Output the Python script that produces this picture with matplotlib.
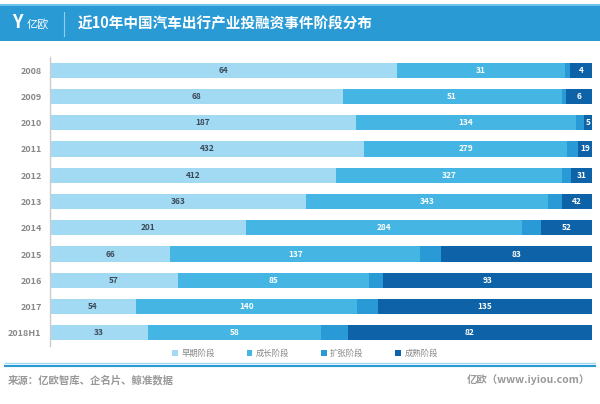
import numpy as np
import matplotlib
matplotlib.use("Agg")
from matplotlib import pyplot as plt
import matplotlib.patches as patches

plt.rcParams['font.family'] = ['Noto Sans CJK SC', 'DejaVu Sans']

years = ['2008', '2009', '2010', '2011', '2012', '2013', '2014', '2015', '2016', '2017', '2018H1']
stages = ['早期阶段', '成长阶段', '扩张阶段', '成熟阶段']
early = [64, 68, 187, 432, 412, 363, 201, 66, 57, 54, 33]
growth = [31, 51, 134, 279, 327, 343, 284, 137, 85, 140, 58]
expand = [1, 1, 5, 15, 12, 20, 20, 11, 6, 13, 9]
mature = [4, 6, 5, 19, 31, 42, 52, 83, 93, 135, 82]

colors = ['#a3daf3', '#45b6e3', '#2a9ad6', '#0d62a8']
label_colors = ['#3a4a5a', '#ffffff', None, '#ffffff']

fig = plt.figure(figsize=(6, 4.04), dpi=100)
fig.patch.set_facecolor('white')

# header bar
fig.patches.append(patches.Rectangle((0, 1 - 41 / 404), 1, 36 / 404, transform=fig.transFigure,
                                     facecolor='#2a9ad5', edgecolor='none'))
fig.patches.append(patches.Rectangle((0, 1 - 6 / 404), 1, 2 / 404, transform=fig.transFigure,
                                     facecolor='#6cc3ec', edgecolor='none'))
fig.text(12 / 600, 1 - 23 / 404, 'Y', color='white', fontsize=13, fontweight='bold', va='center')
fig.text(27 / 600, 1 - 24 / 404, '亿欧', color='white', fontsize=8, va='center')
fig.add_artist(plt.Line2D([64 / 600, 64 / 600], [1 - 12 / 404, 1 - 36 / 404], color='#8fd0f0', lw=0.8))
fig.text(78 / 600, 1 - 23 / 404, '近10年中国汽车出行产业投融资事件阶段分布', color='white',
         fontsize=10.5, fontweight='bold', va='center')

ax = fig.add_axes([50 / 600, 1 - 346 / 404, 542 / 600, 289 / 404])

data = np.array([early, growth, expand, mature], dtype=float)
totals = data.sum(axis=0)
shares = data / totals
y = np.arange(len(years))
left = np.zeros(len(years))
for i in range(4):
    ax.barh(y, shares[i], left=left, height=0.58, color=colors[i], label=stages[i])
    if label_colors[i] is not None:
        for j in range(len(years)):
            ax.text(left[j] + shares[i][j] / 2, y[j], str(int(data[i][j])), ha='center', va='center',
                    fontsize=6, color=label_colors[i], fontweight='bold')
    left += shares[i]

ax.set_xlim(0, 1)
ax.set_ylim(len(years) - 0.5, -0.5)
ax.set_yticks(y)
ax.set_yticklabels(years, fontsize=6.5, color='#888888', fontweight='bold')
ax.set_xticks([])
ax.tick_params(axis='y', length=0, pad=6)
for s in ['top', 'right', 'bottom']:
    ax.spines[s].set_visible(False)
ax.spines['left'].set_color('#cccccc')
ax.spines['left'].set_linewidth(1.0)

leg = fig.legend(loc='center', bbox_to_anchor=(305 / 600, 1 - 353 / 404), ncol=4, frameon=False,
                 fontsize=6, handlelength=0.7, handleheight=0.7, columnspacing=3.8, handletextpad=0.4)
for t in leg.get_texts():
    t.set_color('#888888')

# bottom rule
fig.add_artist(plt.Line2D([5 / 600, 595 / 600], [1 - 363 / 404, 1 - 363 / 404], color='#9fdaf5', lw=1))
fig.add_artist(plt.Line2D([5 / 600, 595 / 600], [1 - 366 / 404, 1 - 366 / 404], color='#2a9ad5', lw=1.5))

fig.text(8 / 600, 1 - 380 / 404, '来源：亿欧智库、企名片、鲸准数据', color='#999999', fontsize=7.5,
         fontweight='bold', va='center')
fig.text(590 / 600, 1 - 380 / 404, '亿欧（www.iyiou.com）', color='#999999', fontsize=7.5,
         fontweight='bold', va='center', ha='right')

fig.savefig('out.png', dpi=100)
